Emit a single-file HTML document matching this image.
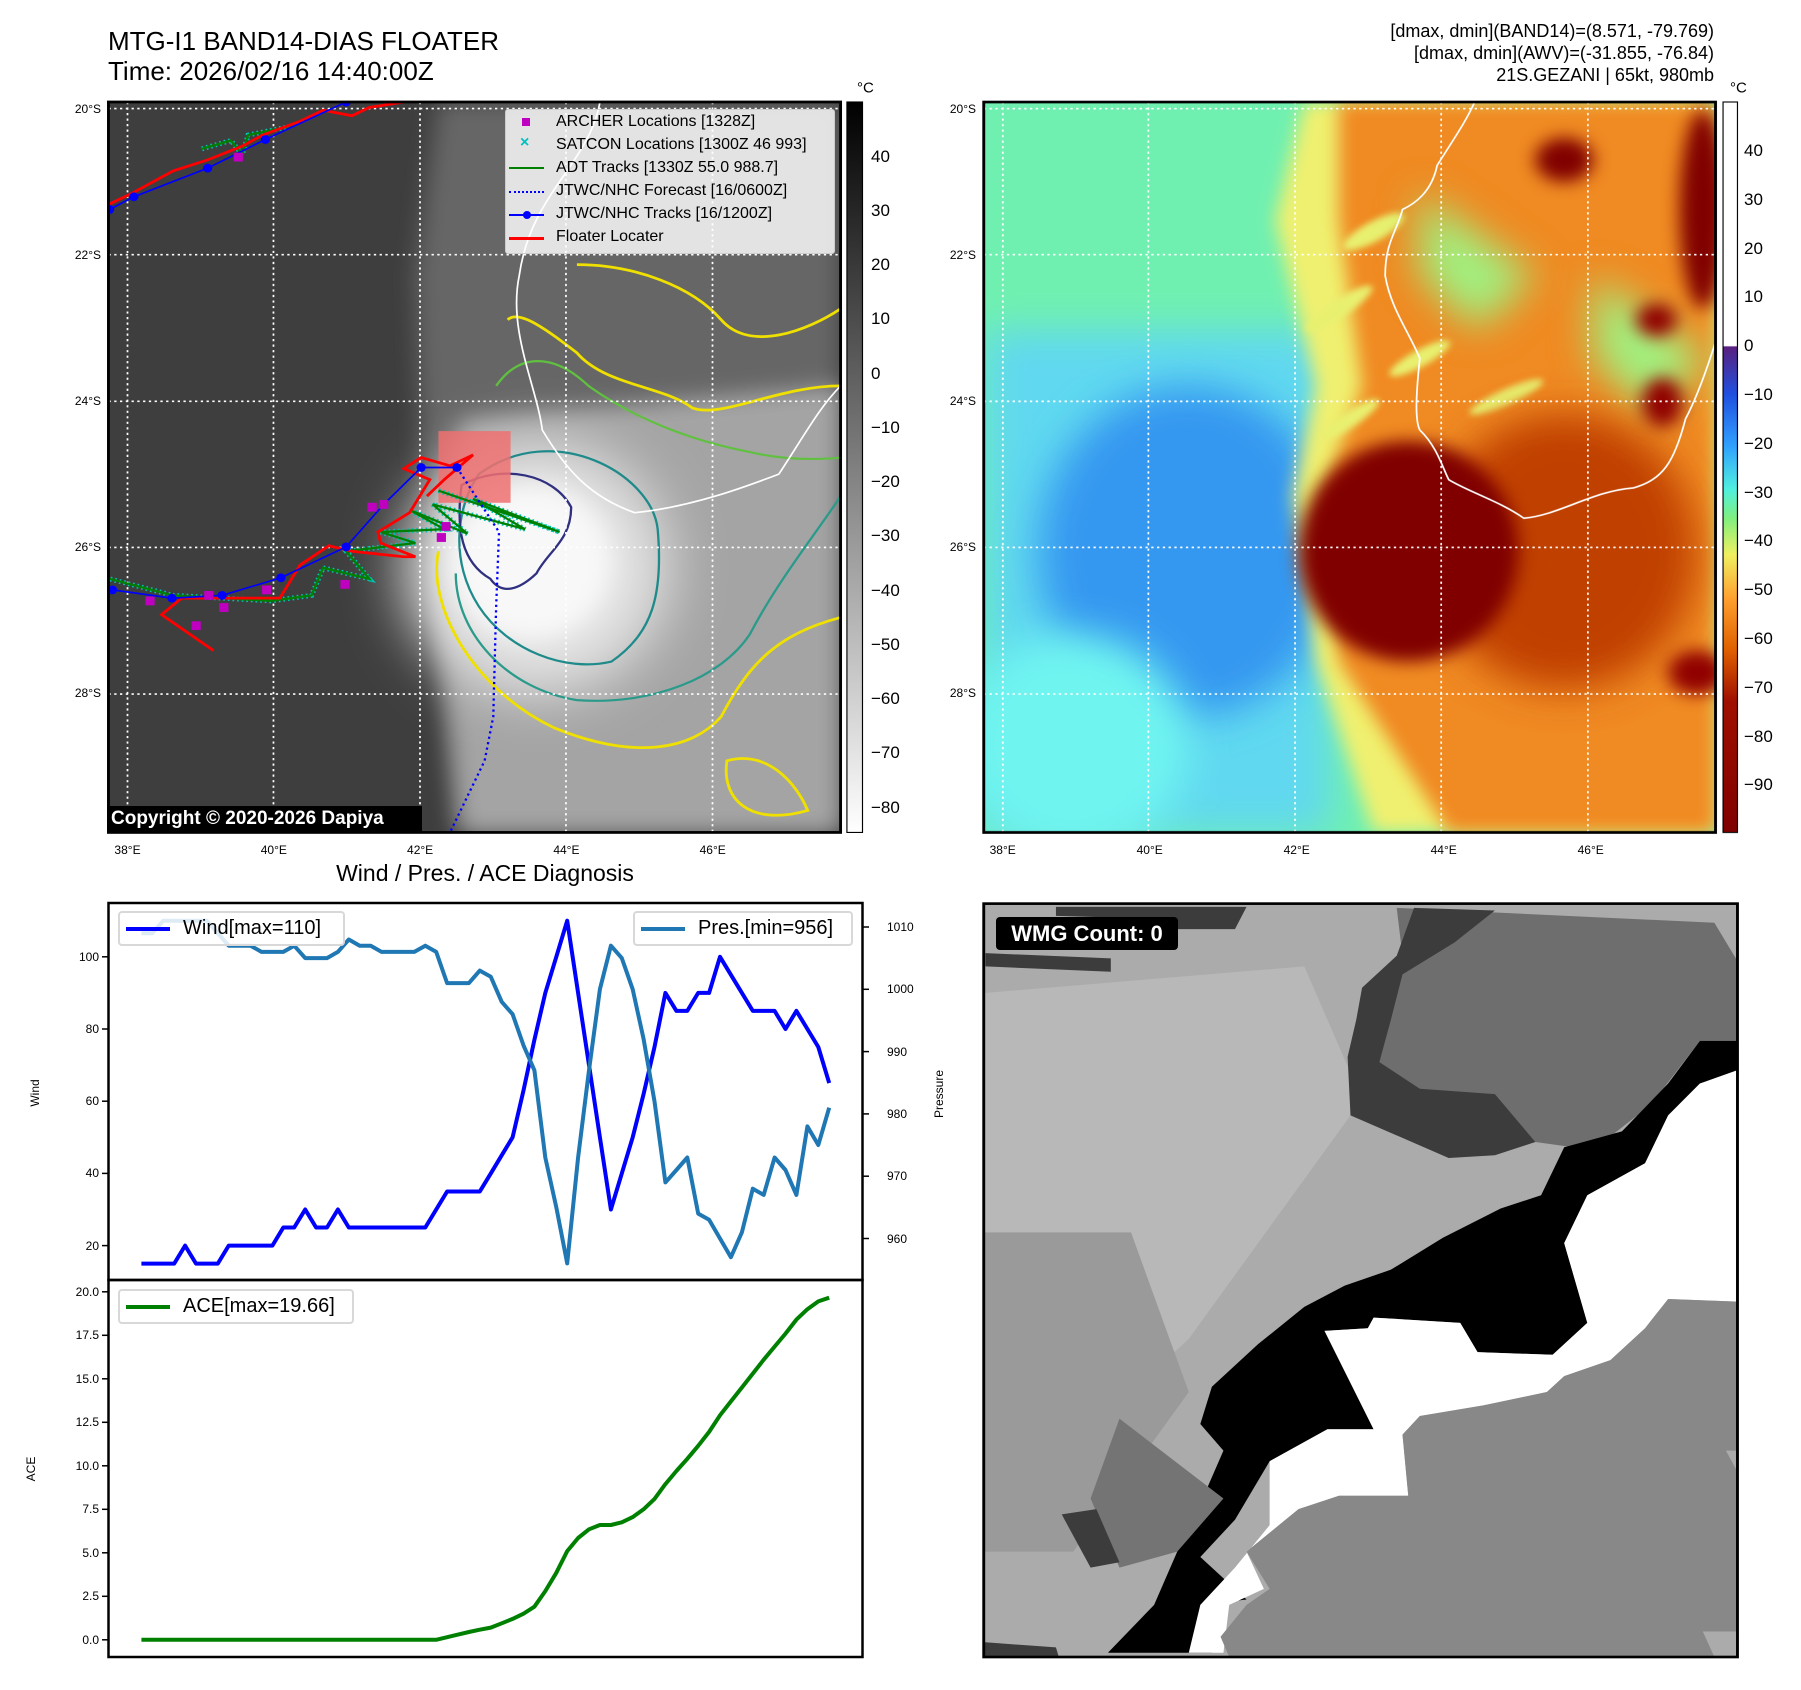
<!DOCTYPE html>
<html><head><meta charset="utf-8">
<style>
html,body{margin:0;padding:0;background:#fff;}
body{width:1801px;height:1690px;position:relative;overflow:hidden;font-family:"Liberation Sans",sans-serif;color:#000;}
.abs{position:absolute;white-space:nowrap;}
.q{position:absolute;}
</style></head>
<body>
<!-- TOP-LEFT MAP -->
<div class="abs" style="left:108px;top:26px;font-size:26px;line-height:30px;">MTG-I1 BAND14-DIAS FLOATER<br>Time: 2026/02/16 14:40:00Z</div>
<svg class="q" style="left:0;top:0" width="900" height="860" viewBox="0 0 1560 1560" preserveAspectRatio="none">
<defs>
<filter id="bl" x="-50%" y="-50%" width="200%" height="200%"><feGaussianBlur stdDeviation="20"/></filter>
<filter id="bl2" x="-50%" y="-50%" width="200%" height="200%"><feGaussianBlur stdDeviation="50"/></filter>
<clipPath id="c1"><rect x="188" y="185" width="1269" height="1325"/></clipPath>
<linearGradient id="gcb1" x1="0" y1="0" x2="0" y2="1"><stop offset="0" stop-color="#000"/><stop offset="1" stop-color="#fff"/></linearGradient>
</defs>
<g clip-path="url(#c1)">
<rect x="188" y="185" width="1269" height="1325" fill="#3e3e3e"/>
<polygon points="760,185 1457,185 1457,1510 790,1510 750,1100 730,800 720,500" fill="#666" filter="url(#bl)"/>
<polygon points="800,760 1457,700 1457,1510 800,1510 760,1100 770,900" fill="#a4a4a4" filter="url(#bl)"/>
<ellipse cx="930" cy="1030" rx="230" ry="230" fill="#e4e4e4" filter="url(#bl2)"/>
<ellipse cx="920" cy="1020" rx="140" ry="140" fill="#f8f8f8" filter="url(#bl)"/>
<path d="M760,1000 C740,1100 820,1250 960,1320 C1100,1380 1200,1360 1250,1300 C1300,1200 1350,1150 1457,1120" fill="none" stroke="#f0e000" stroke-width="5"/>
<path d="M790,1040 C790,1150 880,1250 1000,1270 C1130,1280 1250,1230 1300,1150 C1350,1050 1420,960 1457,900" fill="none" stroke="#2a9a8a" stroke-width="4"/>
<path d="M830,860 C960,760 1130,860 1140,960 C1150,1080 1130,1150 1060,1200 C980,1220 880,1180 830,1100 C780,1020 790,920 830,860Z" fill="none" stroke="#1f8a8a" stroke-width="4"/>
<path d="M800,880 C870,840 960,860 990,920 C990,980 950,1000 930,1040 C900,1070 870,1080 850,1050 C800,1020 790,960 800,880Z" fill="none" stroke="#303080" stroke-width="4"/>
<path d="M880,580 C900,560 950,600 1000,640 C1050,700 1150,700 1200,740 C1250,760 1350,700 1457,700" fill="none" stroke="#f0e000" stroke-width="5"/>
<path d="M860,700 C900,640 960,640 1020,700 C1100,760 1200,800 1300,820 C1380,840 1457,830 1457,830" fill="none" stroke="#60c040" stroke-width="4"/>
<path d="M1000,480 C1100,480 1200,520 1250,580 C1300,640 1400,600 1457,560" fill="none" stroke="#f0e000" stroke-width="5"/>
<path d="M1260,1380 C1330,1360 1380,1420 1400,1470 C1300,1500 1250,1450 1260,1380Z" fill="none" stroke="#f0e000" stroke-width="5"/>
<path d="M1040,185 C1020,300 920,350 900,500 C880,600 930,700 940,780 C980,850 1020,900 1100,930 C1200,920 1300,880 1350,860 C1400,780 1420,740 1457,700" fill="none" stroke="#fff" stroke-width="3"/>
<rect x="760" y="782" width="125" height="130" fill="#f07070" opacity="0.85"/>
<g fill="none" stroke-dasharray="4 6" stroke="#fff" stroke-width="3">
<line x1="221" y1="185" x2="221" y2="1510"/><line x1="474" y1="185" x2="474" y2="1510"/><line x1="728" y1="185" x2="728" y2="1510"/><line x1="981" y1="185" x2="981" y2="1510"/><line x1="1235" y1="185" x2="1235" y2="1510"/>
<line x1="188" y1="197" x2="1457" y2="197"/><line x1="188" y1="462" x2="1457" y2="462"/><line x1="188" y1="728" x2="1457" y2="728"/><line x1="188" y1="993" x2="1457" y2="993"/><line x1="188" y1="1259" x2="1457" y2="1259"/>
</g>
<g id="tracks"></g>
</g>
<rect x="188" y="185" width="1269" height="1325" fill="none" stroke="#000" stroke-width="5"/>
<rect x="1468" y="185" width="27" height="1325" fill="url(#gcb1)" stroke="#000" stroke-width="2"/>
</svg>
<div class="abs" style="left:505px;top:109px;width:328px;height:143px;background:rgba(255,255,255,0.82);border:1px solid #ccc;border-radius:3px;font-size:16px;">
<div style="position:absolute;left:16px;top:8px;width:8px;height:8px;background:#c000c0"></div>
<div style="position:absolute;left:50px;top:3px">ARCHER Locations [1328Z]</div>
<div style="position:absolute;left:14px;top:24px;color:#00c0c0;font-weight:bold">×</div>
<div style="position:absolute;left:50px;top:26px">SATCON Locations [1300Z 46 993]</div>
<div style="position:absolute;left:3px;top:57px;width:35px;height:2px;background:#008000"></div>
<div style="position:absolute;left:50px;top:49px">ADT Tracks [1330Z 55.0 988.7]</div>
<div style="position:absolute;left:3px;top:81px;width:35px;border-top:2px dotted #0000ff"></div>
<div style="position:absolute;left:50px;top:72px">JTWC/NHC Forecast [16/0600Z]</div>
<div style="position:absolute;left:3px;top:104px;width:35px;height:2px;background:#0000ff"></div>
<div style="position:absolute;left:17px;top:101px;width:8px;height:8px;border-radius:50%;background:#0000ff"></div>
<div style="position:absolute;left:50px;top:95px">JTWC/NHC Tracks [16/1200Z]</div>
<div style="position:absolute;left:3px;top:127px;width:35px;height:3px;background:#ff0000"></div>
<div style="position:absolute;left:50px;top:118px">Floater Locater</div>
</div>
<div class="abs" style="left:107px;top:806px;width:315px;height:26px;background:#000;color:#fff;font-weight:bold;font-size:19px;line-height:26px;padding-left:4px;box-sizing:border-box;">Copyright © 2020-2026 Dapiya</div>
<div id="map1ticks"></div>

<!-- TOP-RIGHT MAP -->
<div class="abs" style="right:87px;top:20px;font-size:18px;line-height:22px;text-align:right;">[dmax, dmin](BAND14)=(8.571, -79.769)<br>[dmax, dmin](AWV)=(-31.855, -76.84)<br>21S.GEZANI | 65kt, 980mb</div>
<svg class="q" style="left:900px;top:0" width="901" height="860" viewBox="0 0 1560 1560" preserveAspectRatio="none">
<defs>
<filter id="b3" x="-50%" y="-50%" width="200%" height="200%"><feGaussianBlur stdDeviation="35"/></filter>
<filter id="b4" x="-50%" y="-50%" width="200%" height="200%"><feGaussianBlur stdDeviation="15"/></filter>
<filter id="b5" x="-50%" y="-50%" width="200%" height="200%"><feGaussianBlur stdDeviation="6"/></filter>
<clipPath id="c2"><rect x="145" y="185" width="1267" height="1325"/></clipPath>
<linearGradient id="gcb2" x1="0" y1="0" x2="0" y2="1">
<stop offset="0" stop-color="#ffffff"/><stop offset="0.334" stop-color="#ffffff"/><stop offset="0.335" stop-color="#5a2080"/>
<stop offset="0.40" stop-color="#2050e0"/><stop offset="0.47" stop-color="#30a0ff"/><stop offset="0.53" stop-color="#50f0e0"/>
<stop offset="0.57" stop-color="#80f080"/><stop offset="0.62" stop-color="#f0f060"/><stop offset="0.68" stop-color="#ffa030"/>
<stop offset="0.75" stop-color="#e06000"/><stop offset="0.82" stop-color="#a01000"/><stop offset="1" stop-color="#800000"/></linearGradient>
</defs>
<g clip-path="url(#c2)">
<rect x="145" y="185" width="1267" height="1325" fill="#70f0b0"/>
<rect x="145" y="600" width="600" height="910" fill="#60d8f0" filter="url(#b3)"/>
<ellipse cx="500" cy="1000" rx="260" ry="300" fill="#3498f0" filter="url(#b3)"/>
<ellipse cx="300" cy="1350" rx="200" ry="200" fill="#70f4f0" filter="url(#b3)"/>
<polygon points="700,185 1412,185 1412,1510 820,1510 720,1200 680,900 720,700 650,400" fill="#f0f070" filter="url(#b4)"/>
<polygon points="760,185 1412,185 1412,1510 950,1510 760,1200 730,900 800,700 760,400" fill="#f08a20" filter="url(#b4)"/>
<g fill="#e8f070" filter="url(#b5)">
<ellipse cx="820" cy="420" rx="60" ry="18" transform="rotate(-30 820 420)"/>
<ellipse cx="760" cy="560" rx="70" ry="16" transform="rotate(-35 760 560)"/>
<ellipse cx="900" cy="650" rx="60" ry="15" transform="rotate(-30 900 650)"/>
<ellipse cx="780" cy="760" rx="60" ry="14" transform="rotate(-35 780 760)"/>
<ellipse cx="1050" cy="720" rx="70" ry="14" transform="rotate(-25 1050 720)"/>
</g>
<polygon points="900,350 1100,500 1000,600 900,500" fill="#a0f080" filter="url(#b3)"/>
<polygon points="1200,500 1400,650 1300,750 1200,650" fill="#a0f080" filter="url(#b3)"/>
<ellipse cx="1150" cy="1000" rx="230" ry="250" fill="#c04000" filter="url(#b3)"/>
<ellipse cx="880" cy="1000" rx="190" ry="200" fill="#800000" filter="url(#b4)"/>
<ellipse cx="1150" cy="290" rx="50" ry="40" fill="#800000" filter="url(#b4)"/>
<ellipse cx="1390" cy="380" rx="40" ry="180" fill="#800000" filter="url(#b4)"/>
<ellipse cx="1310" cy="580" rx="35" ry="30" fill="#900000" filter="url(#b4)"/>
<ellipse cx="1320" cy="730" rx="35" ry="45" fill="#900000" filter="url(#b4)"/>
<ellipse cx="1380" cy="1220" rx="50" ry="40" fill="#900000" filter="url(#b4)"/>
<path d="M995,185 C980,220 960,250 930,300 C920,350 890,370 870,380 C860,420 840,440 840,500 C850,560 880,600 900,650 C895,700 890,760 900,780 C930,810 940,850 950,870 C980,890 1040,910 1080,940 C1140,935 1200,890 1270,885 C1320,870 1340,840 1360,760 C1380,720 1400,660 1412,620" fill="none" stroke="#fff" stroke-width="3"/>
<g fill="none" stroke-dasharray="4 6" stroke="#fff" stroke-width="3">
<line x1="178" y1="185" x2="178" y2="1510"/><line x1="430" y1="185" x2="430" y2="1510"/><line x1="684" y1="185" x2="684" y2="1510"/><line x1="937" y1="185" x2="937" y2="1510"/><line x1="1191" y1="185" x2="1191" y2="1510"/>
<line x1="145" y1="197" x2="1412" y2="197"/><line x1="145" y1="462" x2="1412" y2="462"/><line x1="145" y1="728" x2="1412" y2="728"/><line x1="145" y1="993" x2="1412" y2="993"/><line x1="145" y1="1259" x2="1412" y2="1259"/>
</g>
</g>
<rect x="145" y="185" width="1267" height="1325" fill="none" stroke="#000" stroke-width="5"/>
<rect x="1425" y="185" width="25" height="1325" fill="url(#gcb2)" stroke="#000" stroke-width="2"/>
</svg>
<div id="map2ticks"></div>

<!-- BOTTOM-LEFT CHART -->
<div class="abs" style="left:285px;top:860px;width:400px;text-align:center;font-size:23px;">Wind / Pres. / ACE Diagnosis</div>
<svg class="q" id="chart" style="left:0;top:0" width="900" height="1690"></svg>

<!-- BOTTOM-RIGHT PANEL -->
<svg class="q" style="left:900px;top:860px" width="901" height="830" viewBox="0 0 1560 1560" preserveAspectRatio="none">
<rect x="145" y="82" width="1305" height="1416" fill="#ababab"/>
<polygon points="145,250 700,200 800,450 500,900 300,1100 145,1100" fill="#b8b8b8"/>
<polygon points="145,700 400,700 500,1000 300,1300 145,1300" fill="#9a9a9a"/>
<polygon points="270,88 600,88 580,130 440,130 430,110 270,105" fill="#3c3c3c"/>
<polygon points="148,175 365,185 365,210 148,200" fill="#3c3c3c"/>
<polygon points="860,90 1410,118 1450,190 1450,340 1385,340 1300,460 1200,545 1100,530 950,560 900,520 800,450 780,370 800,300 830,215 870,180" fill="#6e6e6e"/>
<polygon points="890,90 1030,95 960,155 870,215 850,300 830,380 900,430 1030,440 1100,530 1030,555 950,560 780,480 775,370 790,300 800,240 860,180" fill="#3c3c3c"/>
<polygon points="1450,340 1450,400 1385,420 1330,480 1290,570 1190,630 1150,720 1190,870 1130,930 1000,925 970,870 820,860 810,880 735,885 820,1070 740,1070 640,1130 580,1240 520,1310 600,1390 520,1400 540,1490 360,1490 440,1400 480,1300 520,1210 560,1110 520,1060 540,990 620,910 700,840 770,800 850,770 940,710 1040,655 1110,630 1150,540 1250,510 1330,420 1385,340" fill="#000"/>
<polygon points="1450,395 1450,830 1330,825 1290,880 1230,940 1150,970 1120,1000 1010,1025 900,1045 870,1080 880,1195 760,1195 690,1220 600,1300 630,1370 570,1400 560,1490 500,1490 520,1400 580,1330 640,1250 640,1130 740,1070 820,1070 735,885 810,880 820,860 970,870 1000,925 1130,930 1190,870 1150,720 1190,630 1290,570 1330,480 1385,420" fill="#fff"/>
<polygon points="1450,830 1450,1110 1430,1110 1450,1150 1450,1450 1390,1450 1410,1498 570,1498 555,1460 600,1400 640,1370 600,1300 690,1220 760,1195 880,1195 870,1080 900,1045 1010,1025 1120,1000 1150,970 1230,940 1290,880 1330,825" fill="#888"/>
<polygon points="380,1050 560,1200 480,1300 380,1330 330,1200" fill="#747474"/>
<polygon points="280,1230 340,1220 380,1320 330,1330" fill="#3c3c3c"/>
<polygon points="145,1470 270,1480 275,1498 145,1498" fill="#3c3c3c"/>
<rect x="145" y="82" width="1305" height="1416" fill="none" stroke="#000" stroke-width="5"/>
</svg>
<div class="abs" style="left:996px;top:917px;width:182px;height:33px;background:#000;color:#fff;font-weight:bold;font-size:22px;line-height:33px;text-align:center;border-radius:4px;">WMG Count: 0</div>

<script>
// ---------- chart data ----------
const steps = [];for(let i=0;i<64;i++)steps.push(i);
const windValues = [15,15,15,15,20,15,15,15,20,20,20,20,20,25,25,30,25,25,30,25,25,25,25,25,25,25,25,30,35,35,35,35,40,45,50,63,77,90,100,110,90,70,50,30,40,50,62,75,90,85,85,90,90,100,95,90,85,85,85,80,85,80,75,65];
const pressureValues = [1009,1009,1011,1011,1011,1011,1011,1009,1007,1007,1007,1006,1006,1006,1007,1005,1005,1005,1006,1008,1007,1007,1006,1006,1006,1006,1007,1006,1001,1001,1001,1003,1002,998,996,991,987,973,965,956,973,987,1000,1007,1005,1000,992,982,969,971,973,964,963,960,957,961,968,967,973,971,967,978,975,981];
const aceValues = [0,0,0,0,0,0,0,0,0,0,0,0,0,0,0,0,0,0,0,0,0,0,0,0,0,0,0,0,0.15,0.3,0.45,0.58,0.7,0.95,1.2,1.5,1.9,2.8,3.85,5.1,5.85,6.35,6.6,6.6,6.75,7.05,7.5,8.1,8.95,9.7,10.4,11.15,11.95,12.9,13.7,14.5,15.3,16.1,16.85,17.6,18.4,19.0,19.45,19.66];
const windTicks = [20,40,60,80,100];
const pressureTicks = [960,970,980,990,1000,1010];
const aceTicks = [0,2.5,5,7.5,10,12.5,15,17.5,20];

// ---------- map colorbar data ----------
const cb1Ticks = [40,30,20,10,0,-10,-20,-30,-40,-50,-60,-70,-80];
const cb2Ticks = [40,30,20,10,0,-10,-20,-30,-40,-50,-60,-70,-80,-90];
const lonTicks = [38,40,42,44,46];
const latTicks = [20,22,24,26,28];

const NS='http://www.w3.org/2000/svg';
function mk(tag,attrs,parent){const e=document.createElementNS(NS,tag);for(const k in attrs)e.setAttribute(k,attrs[k]);parent.appendChild(e);return e;}
function txt(parent,x,y,s,size,anchor){const d=document.createElement('div');d.className='abs';d.style.left=x+'px';d.style.top=y+'px';d.style.fontSize=size+'px';if(anchor==='r'){d.style.transform='translate(-100%,-50%)';}else if(anchor==='c'){d.style.transform='translate(-50%,0)';}else{d.style.transform='translate(0,-50%)';}d.textContent=s;parent.appendChild(d);return d;}

// axis functions
const xS = i => 141.4 + i*(829.2-141.4)/63;
const yW = w => 956.8 - (w-100)*3.61;
const yP = p => 927 - (p-1010)*6.23;
const yA = a => 1639.8 - a*17.4;

const svg=document.getElementById('chart');
let f1=mk('rect',{x:108.5,y:903,width:754,height:377,fill:'none',stroke:'#000','stroke-width':2.5},svg);


let f2=mk('rect',{x:108.5,y:1280,width:754,height:377,fill:'none',stroke:'#000','stroke-width':2.5},svg);



windTicks.forEach(v=>{const y=yW(v);const t=mk('line',{x1:102,y1:y,x2:108.5,y2:y,stroke:'#000','stroke-width':1.5},svg);


const l=txt(document.body,99,y,String(v),12,'r');

});
pressureTicks.forEach(v=>{const y=yP(v);const t=mk('line',{x1:862.6,y1:y,x2:869,y2:y,stroke:'#000','stroke-width':1.5},svg);


const l=txt(document.body,887,y,String(v),12,'l');

});
aceTicks.forEach(v=>{const y=yA(v);const t=mk('line',{x1:102,y1:y,x2:108.5,y2:y,stroke:'#000','stroke-width':1.5},svg);


const l=txt(document.body,99,y,v.toFixed(1),12,'r');

});

function line(vals,yf,color,name){const pts=vals.map((v,i)=>xS(steps[i]).toFixed(1)+','+yf(v).toFixed(1)).join(' ');
const p=mk('polyline',{points:pts,fill:'none',stroke:color,'stroke-width':4,'stroke-linejoin':'round'},svg);

}
line(windValues,yW,'#0000ff','wind-line');
line(pressureValues,yP,'#1f77b4','pressure-line');
line(aceValues,yA,'#008000','ace-line');

function rot(x,y,s,name){const d=document.createElement('div');d.className='abs';d.style.left=x+'px';d.style.top=y+'px';d.style.fontSize='12px';d.style.transform='translate(-50%,-50%) rotate(-90deg)';d.textContent=s;


document.body.appendChild(d);}
rot(35,1093,'Wind','wind-axis-title');
rot(939,1094,'Pressure','pressure-axis-title');
rot(31,1469,'ACE','ace-axis-title');

function legend(x,y,w,color,label,name){const d=document.createElement('div');d.className='abs';d.style.cssText+=`left:${x}px;top:${y}px;width:${w}px;height:35px;background:rgba(255,255,255,0.85);border:2px solid #d8d8d8;border-radius:4px;font-size:20px;box-sizing:border-box;`;
d.innerHTML=`<div style="position:absolute;left:6px;top:14px;width:44px;height:4px;background:${color}"></div><div style="position:absolute;left:63px;top:4px">${label}</div>`;


document.body.appendChild(d);}
legend(118,911,227,'#0000ff','Wind[max=110]','wind-legend');
legend(633,911,220,'#1f77b4','Pres.[min=956]','pressure-legend');
legend(118,1289,236,'#008000','ACE[max=19.66]','ace-legend');

// ---------- map ticks ----------
const m1=document.getElementById('map1ticks');
const lonX1 = lon => 127.5 + (lon-38)*73.15;
const lonX2 = lon => 1002.7 + (lon-38)*73.5;
const latY = lat => 108.6 + (lat-20)*73.1;
lonTicks.forEach(v=>{const a=txt(m1,lonX1(v),843,v+'°E',12,'c');


const b=txt(m1,lonX2(v),843,v+'°E',12,'c');

});
latTicks.forEach(v=>{const a=txt(m1,101,latY(v),v+'°S',12,'r');


const b=txt(m1,976,latY(v),v+'°S',12,'r');

});
const cbY1 = v => 156.6 + (40-v)*5.425;
const cbY2 = v => 151 + (40-v)*4.88;
cb1Ticks.forEach(v=>{const a=txt(m1,871,cbY1(v),String(v).replace('-','−'),17,'l');

});
cb2Ticks.forEach(v=>{const a=txt(m1,1744,cbY2(v),String(v).replace('-','−'),17,'l');

});
let u1=txt(m1,857,88,'°C',15,'l');


let u2=txt(m1,1730,88,'°C',15,'l');



// ---------- tracks on map 1 (zoom-space coords) ----------
const redTrackA=[[190,370],[230,350],[300,310],[360,290],[420,265],[455,245],[520,220],[560,200],[610,210],[640,195],[700,185]];
const redTrackB=[[370,1180],[280,1115],[315,1085],[485,1085],[520,1025],[570,990],[610,1000],[700,1010],[720,1010],[660,985],[655,965],[710,930],[745,870],[700,850],[730,830],[780,845],[820,825],[770,870],[740,900]];
const blueTrackA=[[190,380],[232,357],[360,305],[460,253],[600,185]];
const blueTrackB=[[195,1070],[298,1085],[385,1080],[487,1048],[600,992],[665,915],[730,848],[792,848]];
const forecastTrack=[[792,848],[865,965],[860,1100],[855,1300],[840,1380],[780,1510]];
const adtTrack=[[760,890],[970,965],[820,905],[910,960],[750,915],[810,968],[710,925],[770,960],[660,965],[720,985],[600,1000],[640,1050],[560,1030],[540,1080],[470,1090],[300,1080],[190,1050]];
const adtTrackTop=[[350,270],[400,255],[420,280],[430,245],[500,230]];
const archerPts=[[645,920],[665,915],[773,955],[765,975],[598,1060],[462,1070],[388,1102],[340,1135],[362,1080],[260,1090],[413,285]];
const tg=document.getElementById('tracks');
function pl(arr,color,w,dash,name){const p=mk('polyline',{points:arr.map(a=>a.join(',')).join(' '),fill:'none',stroke:color,'stroke-width':w},tg);if(dash)p.setAttribute('stroke-dasharray',dash);

}
pl(adtTrack,'#00c0b0',9,'3 5','satcon-markers');
pl(adtTrackTop,'#00c0b0',9,'3 5','satcon-markers-top');
pl(adtTrack,'#008000',4,null,'adt-track');
pl(adtTrackTop,'#008000',4,null,'adt-track-top');
pl(redTrackA,'#ff0000',5,null,'floater-track-top');
pl(redTrackB,'#ff0000',5,null,'floater-track');
pl(blueTrackA,'#0000ff',3,null,'jtwc-track-top');
pl(blueTrackB,'#0000ff',3,null,'jtwc-track');
pl(forecastTrack,'#0000ff',4,'4 6','jtwc-forecast');
blueTrackA.concat(blueTrackB).forEach(p=>{const c=mk('circle',{cx:p[0],cy:p[1],r:8,fill:'#0000ff'},tg);

});
archerPts.forEach(p=>{const r=mk('rect',{x:p[0]-8,y:p[1]-8,width:16,height:16,fill:'#c000c0'},tg);

});
</script>
</body></html>
